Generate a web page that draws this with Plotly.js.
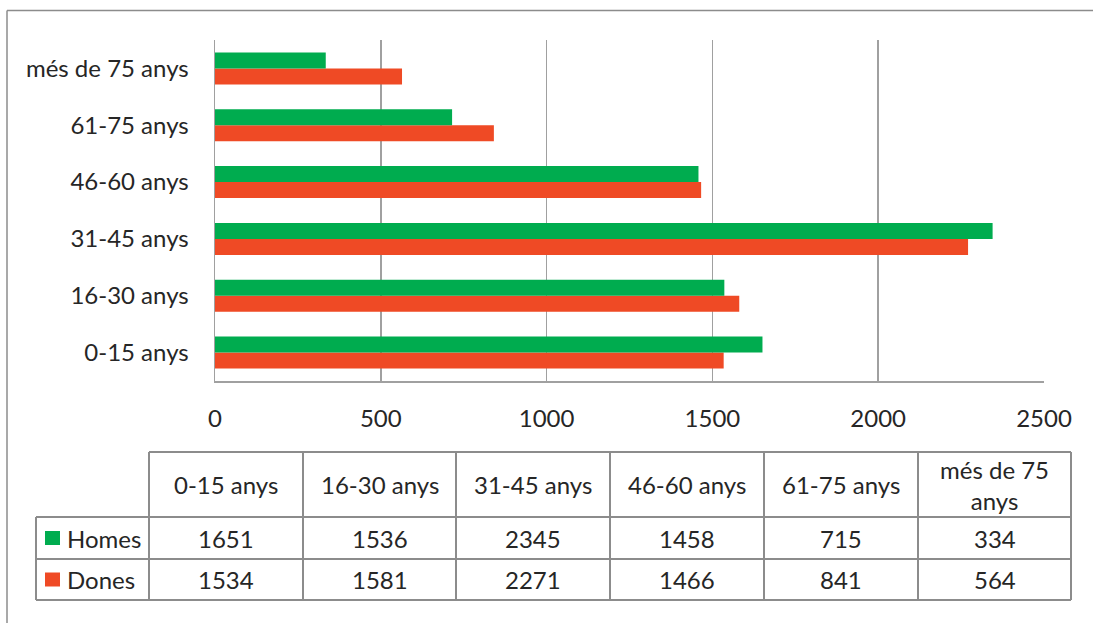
<!DOCTYPE html>
<html>
<head>
<meta charset="utf-8">
<script src="https://cdn.plot.ly/plotly-3.0.1.min.js"></script>
<style>html,body{margin:0;padding:0;background:#fff;overflow:hidden;}#chart{width:1093px;height:623px;}</style>
</head>
<body>
<div id="chart"></div>
<script>
// ---- Data ----
const categories = ['0-15 anys', '16-30 anys', '31-45 anys', '46-60 anys', '61-75 anys', 'més de 75 anys'];
const tableHeaders = ['0-15 anys', '16-30 anys', '31-45 anys', '46-60 anys', '61-75 anys', 'més de 75<br>anys'];
const homes = [1651, 1536, 2345, 1458, 715, 334];
const dones = [1534, 1581, 2271, 1466, 841, 564];
const seriesNames = ['Homes', 'Dones'];
const xTicks = [0, 500, 1000, 1500, 2000, 2500];

// ---- Style ----
const GREEN = '#00ac4f';
const RED = '#ef4a25';
const GRID = '#a0a0a0';
const TXT = '#262626';
const FONT = 'Lato, "Open Sans", sans-serif';
const FS = 24;

const W = 1093, H = 623;
const PL = 215, PR = 1044, PT = 40, PB = 381;
const px = x => (x - PL) / (PR - PL);
const py = y => (PB - y) / (PB - PT);

const traces = [
  {type: 'bar', orientation: 'h', name: seriesNames[1], y: categories, x: dones,
   marker: {color: RED}, hoverinfo: 'x+y'},
  {type: 'bar', orientation: 'h', name: seriesNames[0], y: categories, x: homes,
   marker: {color: GREEN}, hoverinfo: 'x+y'}
];

const shapes = [];
const annotations = [];
const line = (x0, y0, x1, y1, w, c) => shapes.push({type: 'line', xref: 'paper', yref: 'paper',
  x0: px(x0), y0: py(y0), x1: px(x1), y1: py(y1), line: {color: c || '#8c8c8c', width: w || 2}});

// outer chart border: top and left edges only are visible
line(7, 10.5, W + 5, 10.5, 1.5, '#8c8c8c');
line(7, 10.5, 7, H + 5, 1.5, '#8c8c8c');

// data table
const colEdges = [149, 303, 456, 610, 764, 918, 1071];
const rowEdges = {headTop: 452, headBot: 517, r1: 559, r2: 600};
const tblLeft = 36;
line(colEdges[0], rowEdges.headTop, colEdges[6], rowEdges.headTop);
line(tblLeft, rowEdges.headBot, colEdges[6], rowEdges.headBot);
line(tblLeft, rowEdges.r1, colEdges[6], rowEdges.r1);
line(tblLeft, rowEdges.r2, colEdges[6], rowEdges.r2);
line(tblLeft, rowEdges.headBot, tblLeft, rowEdges.r2);
colEdges.forEach(c => line(c, rowEdges.headTop, c, rowEdges.r2));

const addText = (x, y, text, align) => annotations.push({xref: 'paper', yref: 'paper',
  x: px(x), y: py(y), text: text, showarrow: false, xanchor: align || 'center', yanchor: 'middle',
  font: {family: FONT, size: FS, color: TXT}});

const rowCenters = [(rowEdges.headBot + rowEdges.r1) / 2, (rowEdges.r1 + rowEdges.r2) / 2];
const seriesVals = [homes, dones];
const seriesColors = [GREEN, RED];
tableHeaders.forEach((h, i) => {
  const cx = (colEdges[i] + colEdges[i + 1]) / 2;
  addText(cx, (rowEdges.headTop + rowEdges.headBot) / 2, h);
  seriesVals.forEach((vals, r) => addText(cx, rowCenters[r], String(vals[i])));
});
seriesNames.forEach((n, r) => {
  const cy = rowCenters[r];
  shapes.push({type: 'rect', xref: 'paper', yref: 'paper', x0: px(45), x1: px(60), y0: py(cy - 7), y1: py(cy + 7),
    fillcolor: seriesColors[r], line: {width: 0}});
  addText(65, cy, n, 'left');
});

const layout = {
  width: W, height: H,
  margin: {l: PL, r: W - PR, t: PT, b: H - PB, pad: 0},
  paper_bgcolor: '#fff', plot_bgcolor: '#fff',
  barmode: 'group', bargap: 0.436, bargroupgap: 0,
  showlegend: false,
  font: {family: FONT, size: FS, color: TXT},
  xaxis: {range: [0, 2500], tickvals: xTicks, ticktext: xTicks.map(String),
    showgrid: true, gridcolor: GRID, gridwidth: 1.5, zeroline: false,
    showline: true, linecolor: GRID, linewidth: 1.5, ticks: '', ticklabelstandoff: 16,
    tickfont: {family: FONT, size: FS, color: TXT}, fixedrange: true},
  yaxis: {type: 'category', categoryorder: 'array', categoryarray: categories,
    showgrid: false, zeroline: false, showline: true, linecolor: GRID, linewidth: 1.5,
    ticks: '', ticklabelstandoff: 20, tickfont: {family: FONT, size: FS, color: TXT}, fixedrange: true},
  shapes: shapes,
  annotations: annotations
};

Plotly.newPlot('chart', traces, layout, {displayModeBar: false, staticPlot: true});
</script>
</body>
</html>
